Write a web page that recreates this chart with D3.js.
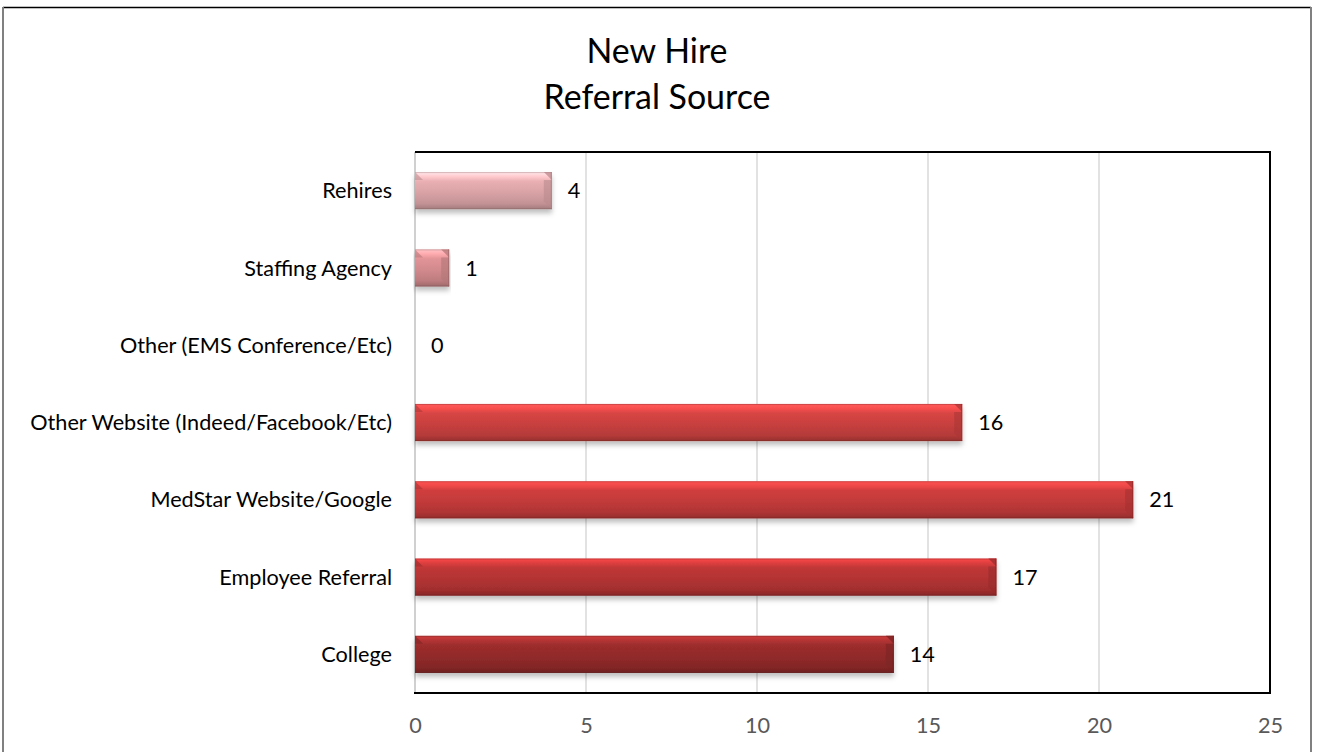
<!DOCTYPE html>
<html>
<head>
<meta charset="utf-8">
<script src="https://cdn.jsdelivr.net/npm/d3@7"></script>
<style>
  html, body { margin: 0; padding: 0; background: #fff; }
  svg { display: block; }
</style>
</head>
<body>
<svg id="chart" width="1319" height="752"></svg>
<script>
// ---- data ----
const titleLines = ["New Hire", "Referral Source"];
const categories = [
  "Rehires",
  "Staffing Agency",
  "Other (EMS Conference/Etc)",
  "Other Website (Indeed/Facebook/Etc)",
  "MedStar Website/Google",
  "Employee Referral",
  "College"
];
const values = [4, 1, 0, 16, 21, 17, 14];
const barColors = ["#d9a3a6", "#d28a8d", "#cc6a6a", "#c8403f", "#c23a3a", "#b33333", "#922a2a"];
const xTicks = [0, 5, 10, 15, 20, 25];

// ---- layout ----
const W = 1319, H = 752;
const plot = { left: 415, right: 1270, top: 152, bottom: 693 };
const FONT = "Lato, 'Open Sans', 'DejaVu Sans', sans-serif";

const svg = d3.select("#chart");

function fitSize(text, target) {
  const t = svg.append("text").attr("font-family", FONT).attr("font-size", 100).text(text);
  const w = t.node().getComputedTextLength();
  t.remove();
  return 100 * target / w;
}
const catSize = fitSize("Other Website (Indeed/Facebook/Etc)", 362);
const titleSize = fitSize("Referral Source", 227);
const numSize = catSize;

// outer frame
svg.append("line").attr("x1", 3).attr("x2", 1311).attr("y1", 7.5).attr("y2", 7.5)
  .attr("stroke", "#000").attr("stroke-width", 1.5);
svg.append("line").attr("x1", 3).attr("x2", 3).attr("y1", 7).attr("y2", H)
  .attr("stroke", "#808080").attr("stroke-width", 2);
svg.append("line").attr("x1", 1311).attr("x2", 1311).attr("y1", 7).attr("y2", H)
  .attr("stroke", "#808080").attr("stroke-width", 2);

// scales
const x = d3.scaleLinear().domain([0, 25]).range([plot.left, plot.right]);
const y = d3.scaleBand().domain(categories).range([plot.top, plot.bottom])
  .paddingInner(0.52).paddingOuter(0.26);

// title
svg.append("g").selectAll("text").data(titleLines).join("text")
  .attr("x", 657).attr("y", (d, i) => 63 + i * 46)
  .attr("text-anchor", "middle")
  .attr("font-family", FONT).attr("font-size", titleSize)
  .attr("fill", "#000").text(d => d);

// gridlines
svg.append("g").selectAll("line").data(xTicks.filter(t => t > 0 && t < 25)).join("line")
  .attr("x1", d => x(d)).attr("x2", d => x(d))
  .attr("y1", plot.top).attr("y2", plot.bottom)
  .attr("stroke", "#d9d9d9").attr("stroke-width", 1.5);
// left axis line (grey)
svg.append("line").attr("x1", x(0)).attr("x2", x(0)).attr("y1", plot.top).attr("y2", plot.bottom)
  .attr("stroke", "#d0d0d0").attr("stroke-width", 2);

// defs: gradients & shadow
const defs = svg.append("defs");
const filt = defs.append("filter").attr("id", "shadow")
  .attr("x", "-5%").attr("y", "-20%").attr("width", "110%").attr("height", "160%");
filt.append("feDropShadow").attr("dx", 0).attr("dy", 4).attr("stdDeviation", 2.5)
  .attr("flood-color", "#000").attr("flood-opacity", 0.25);

barColors.forEach((c, i) => {
  const base = d3.color(c);
  const g = defs.append("linearGradient").attr("id", "grad" + i)
    .attr("x1", 0).attr("x2", 0).attr("y1", 0).attr("y2", 1);
  const stops = [
    [0, base.brighter(1.0)],
    [0.12, base.brighter(0.6)],
    [0.25, base.brighter(0.2)],
    [0.55, base],
    [0.85, base.darker(0.3)],
    [1, base.darker(0.8)]
  ];
  stops.forEach(([o, col]) => g.append("stop").attr("offset", o).attr("stop-color", col.formatHex()));
});

// bars
const bev = 8;
const barG = svg.append("g").selectAll("g").data(categories).join("g")
  .attr("filter", "url(#shadow)");
barG.each(function (cat, i) {
  const v = values[i];
  if (v <= 0) return;
  const g = d3.select(this);
  const x0 = x(0), x1 = x(v), y0 = y(cat), y1 = y(cat) + y.bandwidth();
  const base = d3.color(barColors[i]);
  g.append("rect").attr("x", x0).attr("y", y0).attr("width", x1 - x0).attr("height", y1 - y0)
    .attr("fill", `url(#grad${i})`);
  const b = Math.min(bev, (x1 - x0) / 2);
  // right bevel: top-right triangle and bottom-right triangle
  g.append("path")
    .attr("d", `M${x1 - b},${y0} L${x1},${y0} L${x1},${y0 + b} Z`)
    .attr("fill", base.darker(0.3).formatHex()).attr("opacity", 0.85);
  g.append("path")
    .attr("d", `M${x1 - b},${y0 + b} L${x1},${y0 + b} L${x1},${y1} L${x1 - b},${y1 - b} Z`)
    .attr("fill", base.darker(0.45).formatHex()).attr("opacity", 0.6);
  // left bevel
  g.append("path")
    .attr("d", `M${x0},${y0} L${x0 + b},${y0 + b} L${x0},${y0 + b} Z`)
    .attr("fill", base.darker(0.4).formatHex()).attr("opacity", 0.6);
  // top edge
  g.append("line").attr("x1", x0).attr("x2", x1).attr("y1", y0 + 0.5).attr("y2", y0 + 0.5)
    .attr("stroke", base.darker(0.6).formatHex()).attr("stroke-width", 1).attr("opacity", 0.5);
  // bottom edge
  g.append("line").attr("x1", x0).attr("x2", x1).attr("y1", y1 - 0.5).attr("y2", y1 - 0.5)
    .attr("stroke", base.darker(1.2).formatHex()).attr("stroke-width", 1).attr("opacity", 0.6);
  // right edge
  g.append("line").attr("x1", x1 - 0.5).attr("x2", x1 - 0.5).attr("y1", y0).attr("y2", y1)
    .attr("stroke", base.darker(1.0).formatHex()).attr("stroke-width", 1).attr("opacity", 0.6);
});

// plot border (top, right, bottom black)
svg.append("path")
  .attr("d", `M${plot.left},${plot.top} L${plot.right},${plot.top} L${plot.right},${plot.bottom} L${plot.left - 1},${plot.bottom}`)
  .attr("fill", "none").attr("stroke", "#000").attr("stroke-width", 2);

// value labels
svg.append("g").selectAll("text").data(categories).join("text")
  .attr("x", (d, i) => x(values[i]) + 16)
  .attr("y", d => y(d) + y.bandwidth() / 2)
  .attr("dy", "0.35em")
  .attr("font-family", FONT).attr("font-size", numSize)
  .attr("fill", "#000")
  .text((d, i) => values[i]);

// category labels
svg.append("g").selectAll("text").data(categories).join("text")
  .attr("x", 392)
  .attr("y", d => y(d) + y.bandwidth() / 2)
  .attr("dy", "0.35em")
  .attr("text-anchor", "end")
  .attr("font-family", FONT).attr("font-size", catSize)
  .attr("fill", "#000")
  .text(d => d);

// x axis tick labels
const xAxis = d3.axisBottom(x).tickValues(xTicks).tickSize(0).tickPadding(0);
const ax = svg.append("g").attr("transform", `translate(0,${plot.bottom})`).call(xAxis);
ax.select(".domain").remove();
ax.selectAll("text")
  .attr("y", 32).attr("dy", "0.35em")
  .attr("font-family", FONT).attr("font-size", numSize)
  .attr("fill", "#595959");
</script>
</body>
</html>
